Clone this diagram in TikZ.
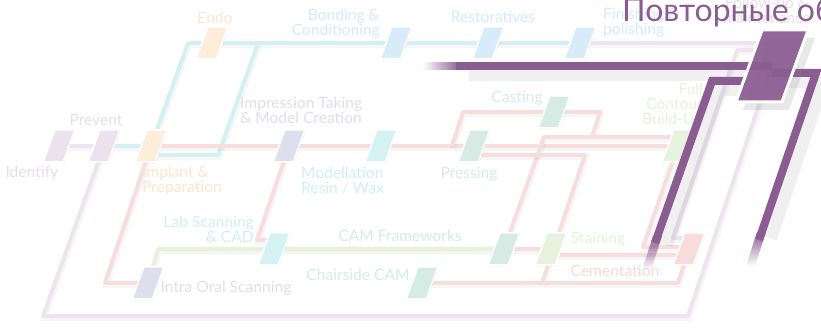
\documentclass[tikz,border=0pt]{standalone}
\usepackage{fontspec}
\setmainfont{Lato}
\usetikzlibrary{positioning, shapes.geometric, calc, backgrounds, fadings, shadows}

\definecolor{pp}{RGB}{139,92,146}
\definecolor{lavline}{HTML}{EDE4F0}
\definecolor{cyline}{HTML}{D4F1F1}
\definecolor{rdline}{HTML}{F7DDDD}
\definecolor{lmline}{HTML}{E6F2DA}
\definecolor{lavst}{HTML}{EAE2EE}
\definecolor{orst}{HTML}{FDEEDC}
\definecolor{blst}{HTML}{D7ECF8}
\definecolor{bvst}{HTML}{DEDFEE}
\definecolor{cyst}{HTML}{D5F2F2}
\definecolor{grst}{HTML}{D7EBE5}
\definecolor{lmst}{HTML}{E7F3DE}
\definecolor{pkst}{HTML}{F8DBDB}
\definecolor{lavtx}{HTML}{E6DEEA}
\definecolor{ortx}{HTML}{FDE5CE}
\definecolor{bltx}{HTML}{D3EAF8}
\definecolor{bvtx}{HTML}{DEDEEF}
\definecolor{cytx}{HTML}{CFF0F0}
\definecolor{grtx}{HTML}{D5EBE4}
\definecolor{lmtx}{HTML}{E5F2DA}
\definecolor{pktx}{HTML}{F8D8D8}

\tikzfading[name=fadedown, top color=transparent!0, bottom color=transparent!100]
\tikzfading[name=fadeleft, left color=transparent!100, right color=transparent!0]

\pgfdeclarelayer{foreground}
\pgfsetlayers{background,main,foreground}

\begin{document}
\begin{tikzpicture}[
  x=1pt, y=-1pt,
  font=\fontsize{15.6}{15}\selectfont,
  station/.style={trapezium, trapezium left angle=70, trapezium right angle=110,
    inner xsep=4.2pt, inner ysep=16pt, outer sep=0pt,
    draw=white, line width=1.5pt,
    drop shadow={opacity=0.08, shadow xshift=1pt, shadow yshift=-1.5pt}},
  track/.style={line width=4pt, line join=round,
    preaction={draw, black, opacity=0.035, line width=6pt,
      transform canvas={shift={(1pt,-2pt)}}}},
  lbl/.style={inner sep=0pt, align=left},
  pline/.style={draw=pp, line width=8pt, line join=miter},
  pshade/.style={black, line width=14pt, opacity=0.06, line join=miter,
    transform canvas={shift={(7pt,-8pt)}}},
]
\useasboundingbox (0,0) rectangle (821,328);

% stations
\node[station, fill=lavst] (idf) at (59,146) {};
\node[station, fill=lavst] (prv) at (104,146) {};
\node[station, fill=orst] (imp) at (151,146) {};
\node[station, fill=orst] (endo) at (212,43) {};
\node[station, fill=blst] (bond) at (396,43) {};
\node[station, fill=blst] (rest) at (488,43) {};
\node[station, fill=blst] (fin) at (580,43) {};
\node[station, fill=bvst] (impr) at (289,146) {};
\node[station, fill=cyst] (mod) at (381,146) {};
\node[station, fill=grst] (prs) at (474,146) {};
\node[station, fill=grst] (cst) at (554,112) {};
\node[station, fill=lmst] (full) at (678,146) {};
\node[station, fill=cyst] (lab) at (274,249) {};
\node[station, fill=grst] (camf) at (504,249) {};
\node[station, fill=lmst] (stn) at (551,249) {};
\node[station, fill=pkst] (cem) at (689,249) {};
\node[station, fill=bvst] (ios) at (148,283) {};
\node[station, fill=grst] (chs) at (422,283) {};
\begin{pgfonlayer}{foreground}
\node[station, fill=pp, fill opacity=0.92, line width=3pt, inner xsep=9.9pt, inner ysep=36pt,
  drop shadow={opacity=0.18, shadow xshift=7pt, shadow yshift=-8pt}] (maint) at (772,66) {};
\end{pgfonlayer}

% labels
\node[lbl, lavtx] (t-idf) at (32,173) {Identify};
\node[lbl, lavtx] (t-prv) at (96,120) {Prevent};
\node[lbl, ortx, anchor=west] (t-imp) at (142,181) {Implant \&\\Preparation};
\node[lbl, ortx] (t-endo) at (215,18) {Endo};
\node[lbl, bltx, anchor=east, align=right] (t-bond) at (380,24) {Bonding \&\\Conditioning};
\node[lbl, bltx] (t-rest) at (493,17) {Restoratives};
\node[lbl, bltx, anchor=west] (t-fin) at (603,23) {Finishing \&\\polishing};
\node[lbl, lavtx, align=center] (t-maint) at (767,10) {Follow-up \&\\maintenance};
\node[lbl, bvtx, anchor=west] (t-impr) at (240,110) {Impression Taking\\\& Model Creation};
\node[lbl, cytx, anchor=west] (t-mod) at (301,181) {Modellation\\Resin / Wax};
\node[lbl, grtx] (t-prs) at (469,174) {Pressing};
\node[lbl, grtx] (t-cst) at (517,98) {Casting};
\node[lbl, lmtx, anchor=east, align=right] (t-full) at (703,105) {Full\\Contour\\Build-Up};
\node[lbl, cytx, anchor=east, align=right] (t-lab) at (254,229) {Lab Scanning\\\& CAD};
\node[lbl, grtx] (t-camf) at (400,236) {CAM Frameworks};
\node[lbl, grtx] (t-chs) at (358,275) {Chairside CAM};
\node[lbl, bvtx] (t-ios) at (226,288) {Intra Oral Scanning};
\node[lbl, lmtx] (t-stn) at (598,239) {Staining};
\node[lbl, pktx] (t-cem) at (615,271) {Cementation};

% bends
\coordinate (lvA) at (43,316);
\coordinate (lvB) at (688,316);
\coordinate (lvC) at (737,50);
\coordinate (lvD) at (673,238);
\coordinate (cyA) at (188,43);
\coordinate (cyB) at (218,155);
\coordinate (cyC) at (258,43);
\coordinate (rdA) at (257,240);
\coordinate (rdB) at (452,146);
\coordinate (rdC) at (463,112);
\coordinate (rdD) at (600,112);
\coordinate (rdE) at (592,137);
\coordinate (rdF) at (544,137);
\coordinate (rdG) at (585,155);
\coordinate (rdH) at (542,283);
\coordinate (rdI) at (678,283);
\coordinate (rdJ) at (643,247);
\coordinate (lmA) at (158,249);

\begin{scope}[on background layer]
% lavender line
\draw[track, lavline] (idf.center) -- (prv.center);
\draw[track, lavline] (prv.center) -- (lvA) -- (lvB) -- (maint.center);
\draw[track, lavline] (fin.center) -- (fin.center -| maint.center);
\draw[track, lavline] (cem.center) -- (cem.center |- lvD) -- (lvD) -- (lvC) -- (lvC -| maint.center);
% cyan line
\draw[track, cyline] (prv.center) -- (imp.center) -- (cyA) -- (fin.center);
\draw[track, cyline] ($(imp.center)+(0,9)$) -- (cyB) -- (cyC);
% red lines
\draw[track, rdline] (imp.center) -- (full.center);
\draw[track, rdline] (imp.center) -- (105,283) -- (ios.center);
\draw[track, rdline] (impr.center) -- (rdA) -- (rdA -| lab.center);
\draw[track, rdline] (rdB) -- (rdC) -- (cst.center) -- (rdD) -- (rdE);
\draw[track, rdline] (camf.center) -- (rdF) -- (rdF -| full.center);
\draw[track, rdline] ($(prs.center)+(0,9)$) -- (rdG) -- (rdH);
\draw[track, rdline] (chs.center) -- (rdI) -- (cem.center);
\draw[track, rdline] (full.center) -- (rdJ) -- (rdJ -| cem.center);
\draw[track, rdline] (camf.center) -- (stn.center);
\draw[track, rdline] ($(stn.center)+(0,6)$) -- ($(cem.center)+(0,6)$);
% green line
\draw[track, lmline] (ios.center) -- (lmA) -- (camf.center);
\end{scope}

% highlighted route
\draw[pshade] (462,66) -- (maint.center);
\draw[pshade] (maint.center |- 0,73) -- (816,73) -- (763,230);
\draw[pshade] (745,81) -- (712,81) -- (659,237);
\fill[pp, path fading=fadeleft] (423,62) rectangle (460,70);
\draw[pline] (456,66) -- (maint.center);
\fill[pp, path fading=fadedown] (757,232) -- (766,232) -- (755,266) -- (746,266) -- cycle;
\draw[pline] (maint.center |- 0,73) -- (816,73) -- (759,240);
\fill[pp, path fading=fadedown] (653,236) -- (662,236) -- (651,270) -- (642,270) -- cycle;
\draw[pline] (745,81) -- (712,81) -- (655,243);

\begin{pgfonlayer}{foreground}
\node[anchor=base west, inner sep=0pt, pp, font=\fontsize{32}{32}\selectfont] (title) at (622,22) {Повторные обращения};
\end{pgfonlayer}
\end{tikzpicture}
\end{document}
